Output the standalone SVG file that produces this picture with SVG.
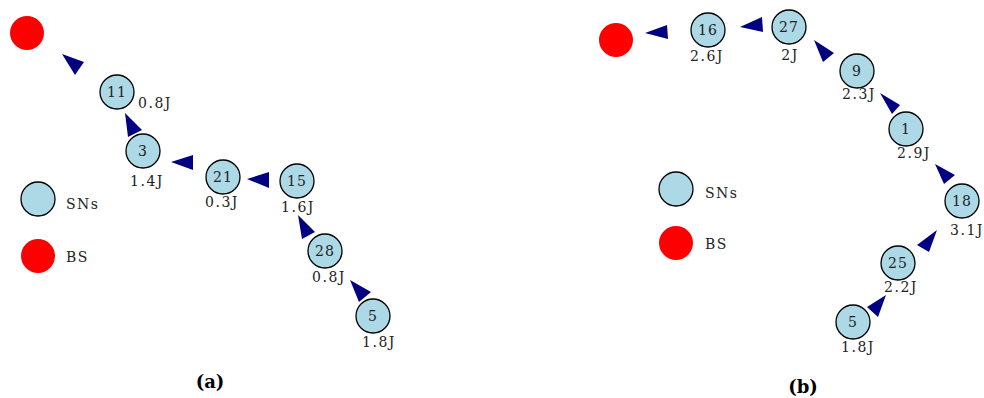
<svg xmlns="http://www.w3.org/2000/svg" width="984" height="398" viewBox="0 0 984 398">
  <style>
    .sn { fill: #add8e6; stroke: #000; stroke-width: 1.3; }
    .bs { fill: #ff0000; }
    .num { font-family: "DejaVu Serif", serif; font-size: 14px; letter-spacing: 1px; text-anchor: middle; fill: #222; }
    .en { font-family: "DejaVu Serif", serif; font-size: 14px; letter-spacing: 1.5px; text-anchor: middle; fill: #222; }
    .leg { font-family: "DejaVu Serif", serif; font-size: 14px; letter-spacing: 1.5px; fill: #222; }
    .cap { font-family: "DejaVu Serif", serif; font-size: 18px; font-weight: bold; text-anchor: middle; fill: #000; }
    .arr { fill: #000080; }
  </style>

  <!-- panel (a) -->
  <g id="a-bs"><circle class="bs" cx="27" cy="33" r="17"/></g>
  <g id="a-n11"><circle class="sn" cx="117" cy="92" r="17"/><text class="num" x="117" y="97">11</text><text class="en" x="155" y="108">0.8J</text></g>
  <g id="a-n3"><circle class="sn" cx="143" cy="151" r="17"/><text class="num" x="143" y="156">3</text><text class="en" x="147" y="186">1.4J</text></g>
  <g id="a-n21"><circle class="sn" cx="223" cy="177" r="17"/><text class="num" x="223" y="182">21</text><text class="en" x="222" y="207">0.3J</text></g>
  <g id="a-n15"><circle class="sn" cx="297" cy="181" r="17"/><text class="num" x="297" y="186">15</text><text class="en" x="298" y="212">1.6J</text></g>
  <g id="a-n28"><circle class="sn" cx="325" cy="251" r="17"/><text class="num" x="325" y="256">28</text><text class="en" x="329" y="282">0.8J</text></g>
  <g id="a-n5"><circle class="sn" cx="373" cy="316" r="17"/><text class="num" x="373" y="321">5</text><text class="en" x="379" y="347">1.8J</text></g>

  <g id="a-legend">
    <circle class="sn" cx="38" cy="199" r="17"/><text class="leg" x="66" y="209">SNs</text>
    <circle class="bs" cx="38" cy="256" r="17"/><text class="leg" x="66" y="262">BS</text>
  </g>
  <text class="cap" x="210" y="388">(a)</text>

  <g id="a-connectors">
    <polygon class="arr" points="62,54 84,62 75,75"/>
    <polygon class="arr" points="125,113 142,130 128,137"/>
    <polygon class="arr" points="171,162 193,155 193,170"/>
    <polygon class="arr" points="247,179 269,172 269,188"/>
    <polygon class="arr" points="298,215 315,232 302,239"/>
    <polygon class="arr" points="350,280 371,292 359,302"/>
  </g>

  <!-- panel (b) -->
  <g id="b-bs"><circle class="bs" cx="616" cy="40" r="17"/></g>
  <g id="b-n16"><circle class="sn" cx="708" cy="30" r="17"/><text class="num" x="708" y="35">16</text><text class="en" x="707" y="61">2.6J</text></g>
  <g id="b-n27"><circle class="sn" cx="789" cy="27" r="17"/><text class="num" x="789" y="32">27</text><text class="en" x="790" y="60">2J</text></g>
  <g id="b-n9"><circle class="sn" cx="857" cy="71" r="17"/><text class="num" x="857" y="76">9</text><text class="en" x="859" y="99">2.3J</text></g>
  <g id="b-n1"><circle class="sn" cx="906" cy="129" r="17"/><text class="num" x="906" y="134">1</text><text class="en" x="914" y="158">2.9J</text></g>
  <g id="b-n18"><circle class="sn" cx="962" cy="201" r="17"/><text class="num" x="962" y="206">18</text><text class="en" x="967" y="235">3.1J</text></g>
  <g id="b-n25"><circle class="sn" cx="898" cy="263" r="17"/><text class="num" x="898" y="268">25</text><text class="en" x="901" y="292">2.2J</text></g>
  <g id="b-n5"><circle class="sn" cx="853" cy="322" r="17"/><text class="num" x="853" y="327">5</text><text class="en" x="858" y="352">1.8J</text></g>

  <g id="b-legend">
    <circle class="sn" cx="676" cy="189" r="17"/><text class="leg" x="705" y="198">SNs</text>
    <circle class="bs" cx="676" cy="243" r="17"/><text class="leg" x="705" y="249">BS</text>
  </g>
  <text class="cap" x="803" y="393">(b)</text>

  <g id="b-connectors">
    <polygon class="arr" points="645,33 667,25 668,39"/>
    <polygon class="arr" points="740,27 762,17 763,32"/>
    <polygon class="arr" points="814,40 834,53 823,62"/>
    <polygon class="arr" points="880,93 900,105 892,114"/>
    <polygon class="arr" points="935,164 955,175 944,184"/>
    <polygon class="arr" points="937,230 929,252 917,245"/>
    <polygon class="arr" points="886,295 878,317 867,307"/>
  </g>
</svg>
